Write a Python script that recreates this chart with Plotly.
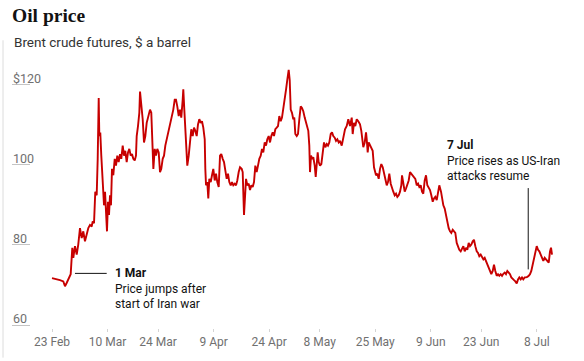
import numpy as np
import plotly.graph_objects as go

# ---------------- data ----------------
start_date = "2026-02-23"
market_holidays = ["2026-04-03"]  # Good Friday, no trading

tick_dates = ["2026-02-23", "2026-03-10", "2026-03-24", "2026-04-09", "2026-04-24",
              "2026-05-08", "2026-05-25", "2026-06-09", "2026-06-23", "2026-07-08"]
tick_labels = ["23 Feb", "10 Mar", "24 Mar", "9 Apr", "24 Apr",
               "8 May", "25 May", "9 Jun", "23 Jun", "8 Jul"]

y_ticks = [60, 80, 100, 120]
y_tick_labels = ["60", "80", "100", "$120"]

# trading sessions elapsed since 23 Feb (fractional = intraday)
session = [
    0.0, 0.93, 1.58, 2.24, 2.57, 2.9, 3.43, 3.7, 4.02, 4.22,
    4.55, 4.89, 5.2, 5.54, 5.88, 6.2, 6.53, 6.87, 7.19, 7.52,
    7.86, 8.06, 8.32, 8.57, 8.85, 9.05, 9.25, 9.37, 9.56, 9.76,
    10.04, 10.3, 10.5, 10.69, 10.89, 11.09, 11.29, 11.49, 11.68, 11.88,
    12.14, 12.42, 12.67, 12.93, 13.2, 13.47, 13.72, 14.0, 14.26, 14.51,
    14.79, 15.05, 15.31, 15.58, 15.84, 16.1, 16.38, 16.63, 16.77, 17.03,
    17.29, 17.43, 17.76, 17.96, 18.22, 18.48, 18.75, 19.07, 19.41, 19.66,
    19.8, 20.07, 20.34, 20.59, 20.85, 21.13, 21.39, 21.64, 21.92, 22.18,
    22.44, 22.71, 22.97, 23.23, 23.5, 23.76, 24.02, 24.3, 24.55, 24.81,
    25.09, 25.35, 25.6, 25.88, 26.0, 26.2, 26.4, 26.6, 26.79, 27.07,
    27.33, 27.58, 27.86, 28.12, 28.38, 28.65, 28.91, 29.17, 29.45, 29.7,
    29.96, 30.24, 30.36, 30.5, 30.75, 30.95, 31.15, 31.43, 31.68, 31.94,
    32.22, 32.48, 32.73, 33.01, 33.27, 33.52, 33.8, 34.06, 34.32, 34.59,
    34.85, 35.11, 35.39, 35.64, 35.9, 36.18, 36.44, 36.69, 36.97, 37.23,
    37.56, 37.76, 38.02, 38.22, 38.42, 38.67, 38.95, 39.21, 39.47, 39.74,
    40.0, 40.26, 40.53, 40.79, 41.05, 41.33, 41.58, 41.84, 42.12, 42.38,
    42.63, 42.91, 43.17, 43.42, 43.7, 43.96, 44.22, 44.5, 44.75, 45.01,
    45.29, 45.54, 45.8, 46.08, 46.34, 46.59, 46.87, 47.07, 47.27, 47.52,
    47.78, 47.98, 48.18, 48.46, 48.71, 48.97, 49.25, 49.5, 49.76, 50.04,
    50.3, 50.55, 50.75, 50.95, 51.09, 51.29, 51.49, 51.74, 52.02, 52.22,
    52.42, 52.61, 52.81, 53.07, 53.33, 53.6, 53.86, 54.12, 54.4, 54.65,
    54.91, 55.19, 55.45, 55.7, 55.98, 56.24, 56.5, 56.77, 57.03, 57.37,
    57.68, 58.02, 58.36, 58.67, 59.01, 59.35, 59.54, 59.8, 60.06, 60.34,
    60.65, 60.99, 61.25, 61.52, 61.64, 61.92, 62.18, 62.32, 62.51, 62.71,
    62.97, 63.23, 63.5, 63.76, 63.96, 64.16, 64.42, 64.69, 64.95, 65.21,
    65.49, 65.74, 66.0, 66.28, 66.53, 66.79, 67.07, 67.33, 67.58, 67.86,
    68.12, 68.38, 68.65, 68.91, 69.17, 69.31, 69.56, 69.84, 70.1, 70.36,
    70.63, 70.89, 71.15, 71.43, 71.68, 71.94, 72.22, 72.48, 72.73, 73.01,
    73.27, 73.52, 73.8, 74.06, 74.32, 74.59, 74.85, 75.11, 75.39, 75.64,
    75.9, 76.18, 76.44, 76.69, 77.03, 77.23, 77.49, 77.76, 78.02, 78.16,
    78.28, 78.55, 78.81, 79.07, 79.35, 79.6, 79.86, 80.14, 80.4, 80.65,
    80.93, 81.19, 81.45, 81.72, 81.98, 82.24, 82.51, 82.77, 83.03, 83.31,
    83.56, 83.82, 84.1, 84.36, 84.61, 84.89, 85.15, 85.41, 85.68, 85.94,
    86.2, 86.48, 86.73, 86.99, 87.27, 87.52, 87.78, 88.06, 88.32, 88.57,
    88.85, 89.11, 89.37, 89.64, 89.9, 90.16, 90.44, 90.69, 90.95, 91.23,
    91.49, 91.74, 92.02, 92.28, 92.53, 92.81, 93.07, 93.32, 93.6, 93.86,
    94.12, 94.39, 94.65, 94.91, 95.19, 95.45, 95.7, 95.98, 96.24, 96.5,
    96.77, 97.03, 97.29, 97.56, 97.82, 98.08, 98.36, 98.61, 98.81, 99.01,
]

# Brent crude futures, $ a barrel
price = [
    71.7, 71.5, 71.2, 70.9, 69.7, 70.5, 71.9, 72.7, 79.3, 76.8,
    79.7, 77.6, 80.1, 84.2, 81.7, 83.4, 80.9, 83.0, 84.2, 85.0,
    84.6, 85.9, 85.4, 93.3, 92.4, 101.5, 116.7, 107.2, 108.1, 102.3,
    94.9, 89.9, 93.3, 88.3, 83.4, 90.8, 87.5, 92.4, 89.9, 99.0,
    97.4, 101.5, 99.8, 102.3, 100.7, 102.7, 101.5, 104.8, 102.3, 103.5,
    100.7, 103.1, 104.0, 102.3, 102.7, 101.5, 101.1, 102.3, 107.2, 109.7,
    113.0, 118.3, 113.8, 111.4, 105.6, 107.2, 110.5, 112.2, 113.8, 113.0,
    108.1, 99.0, 104.0, 102.3, 104.0, 103.1, 98.2, 99.0, 101.5, 102.3,
    104.8, 106.4, 108.1, 108.9, 110.5, 112.2, 113.8, 116.3, 116.3, 114.6,
    112.2, 113.8, 111.8, 116.3, 118.9, 113.8, 108.1, 101.5, 99.8, 102.3,
    106.4, 108.9, 107.2, 109.3, 108.5, 107.2, 110.1, 111.4, 110.5, 110.9,
    109.3, 106.4, 99.0, 94.9, 95.7, 91.6, 96.5, 95.7, 97.4, 99.0,
    96.1, 97.8, 95.7, 94.5, 102.3, 102.7, 101.5, 100.7, 98.6, 96.5,
    97.8, 95.7, 94.9, 95.7, 94.9, 95.3, 94.9, 96.1, 98.2, 99.4,
    99.0, 98.2, 87.5, 91.6, 96.5, 94.9, 95.3, 93.7, 94.9, 94.5,
    95.7, 99.8, 98.2, 99.8, 101.5, 102.3, 104.0, 103.1, 105.6, 104.8,
    106.4, 107.2, 105.6, 107.2, 108.1, 107.2, 108.9, 109.3, 109.7, 112.2,
    110.9, 111.8, 113.8, 115.9, 118.8, 121.2, 123.7, 121.2, 113.8, 113.0,
    111.4, 111.8, 107.7, 107.2, 107.7, 111.4, 114.6, 114.2, 113.4, 111.8,
    110.5, 109.7, 108.5, 104.8, 98.2, 102.3, 101.5, 101.9, 99.8, 97.0,
    101.5, 103.1, 100.7, 99.8, 100.2, 104.0, 105.6, 104.4, 105.2, 104.8,
    105.6, 107.7, 108.1, 107.2, 106.8, 106.0, 106.4, 105.6, 106.0, 104.8,
    106.4, 108.9, 109.7, 111.4, 109.7, 111.8, 107.7, 110.5, 109.7, 111.4,
    110.9, 110.1, 108.5, 106.4, 104.4, 105.6, 108.1, 106.4, 103.1, 105.6,
    104.8, 104.4, 103.5, 99.4, 98.2, 97.4, 97.8, 96.5, 99.0, 100.2,
    99.4, 98.2, 96.5, 94.9, 95.7, 97.8, 95.3, 94.1, 93.3, 92.4,
    92.8, 92.0, 92.4, 93.3, 94.9, 97.4, 94.9, 93.3, 94.1, 94.9,
    96.1, 98.2, 97.8, 97.4, 97.0, 96.5, 94.9, 95.3, 94.5, 94.9,
    93.3, 92.8, 96.1, 97.4, 94.9, 94.1, 93.7, 92.4, 90.8, 91.6,
    92.0, 91.2, 93.3, 94.9, 93.3, 91.6, 89.9, 89.1, 87.5, 86.2,
    85.0, 84.2, 83.4, 83.0, 83.8, 83.4, 83.0, 80.5, 79.3, 78.8,
    78.4, 79.3, 79.7, 78.4, 79.3, 78.8, 80.5, 79.7, 80.1, 80.9,
    81.3, 79.7, 78.4, 78.0, 77.2, 77.6, 76.8, 76.4, 76.8, 76.0,
    75.6, 74.7, 73.5, 72.7, 73.5, 75.1, 73.5, 72.3, 72.7, 72.3,
    72.7, 72.3, 72.8, 73.1, 72.7, 73.5, 73.1, 72.7, 71.9, 71.4,
    71.2, 70.9, 70.4, 71.4, 71.9, 71.4, 71.9, 71.4, 71.9, 71.9,
    72.0, 72.3, 72.7, 73.5, 75.1, 76.8, 77.6, 79.7, 78.8, 78.4,
    77.6, 76.8, 76.0, 76.8, 76.4, 76.0, 75.6, 78.4, 79.3, 77.6,
]
assert len(session) == len(price)

# annotations (session position, price level)
note1_text = "<b>1 Mar</b><br>Price jumps after<br>start of Iran war"
note1_leader = [4.55, 10.83]   # horizontal leader, sessions
note1_leader_y = 72.9
note1_pos = (12.0, 69.1)

note2_text = "<b>7 Jul</b><br>Price rises as US-Iran<br>attacks resume"
note2_leader_x = 94.3          # vertical leader, session
note2_leader_y = [73.9, 94.2]
note2_pos = (77.8, 101.0)

# ---------------- figure ----------------
tick_pos = np.busday_count(start_date, tick_dates, holidays=market_holidays)

RED = "#c70000"
INK = "#121212"
GREY = "#707070"
SANS = "Roboto, Liberation Sans, sans-serif"

W, H = 584, 361
ML, MR, MT, MB = 12, 24, 65, 30
PH = H - MT - MB  # plot height in px


def paper_y(px):
    return (H - MB - px) / PH


fig = go.Figure()
fig.add_trace(go.Scatter(
    x=session, y=price, mode="lines",
    line=dict(color=RED, width=1.9),
    hoverinfo="skip", showlegend=False,
))

fig.update_layout(
    width=W, height=H,
    margin=dict(l=ML, r=MR, t=MT, b=MB),
    paper_bgcolor="white", plot_bgcolor="white",
    title=dict(
        text="Oil price", x=12 / W, xref="container", xanchor="left",
        y=1 - 15 / H, yref="container", yanchor="middle",
        font=dict(family="Liberation Serif, serif", size=19.5, color=INK, weight="bold"),
    ),
    xaxis=dict(
        range=[-7.92, 100.59], tickvals=tick_pos, ticktext=tick_labels,
        ticks="outside", ticklen=3, tickcolor="#d4d4d4", tickwidth=1,
        showgrid=False, zeroline=False, showline=False,
        tickfont=dict(family=SANS, size=12, color=GREY),
    ),
    yaxis=dict(
        range=[59.26, 124.94], tickvals=y_ticks, ticktext=y_tick_labels,
        ticklabelposition="inside top", ticks="inside", ticklen=18,
        tickcolor="#c4c4c4", tickwidth=1,
        ticklabelstandoff=-2, ticklabelshift=3,
        showgrid=False, zeroline=False, showline=False,
        tickfont=dict(family=SANS, size=12.5, color=GREY),
    ),
)

fig.add_annotation(
    text="Brent crude futures, $ a barrel", xref="paper", yref="paper",
    x=0, y=paper_y(42), xanchor="left", yanchor="middle", showarrow=False,
    font=dict(family=SANS, size=13.5, color="#333333"),
)

for txt, (ax, ay) in [(note1_text, note1_pos), (note2_text, note2_pos)]:
    fig.add_annotation(
        text=txt, x=ax, y=ay, xref="x", yref="y", xanchor="left", yanchor="middle",
        align="left", showarrow=False,
        font=dict(family=SANS, size=12, color=INK),
    )

fig.add_shape(type="line", xref="x", yref="y",
              x0=note1_leader[0], x1=note1_leader[1], y0=note1_leader_y, y1=note1_leader_y,
              line=dict(color=INK, width=1))
fig.add_shape(type="line", xref="x", yref="y",
              x0=note2_leader_x, x1=note2_leader_x, y0=note2_leader_y[0], y1=note2_leader_y[1],
              line=dict(color=INK, width=1))

# faint page rule on the left edge
fig.add_shape(type="line", xref="paper", yref="paper",
              x0=-9 / (W - ML - MR), x1=-9 / (W - ML - MR), y0=paper_y(361), y1=paper_y(40),
              line=dict(color="#dcdcdc", width=1))

fig.write_html("out.html")
